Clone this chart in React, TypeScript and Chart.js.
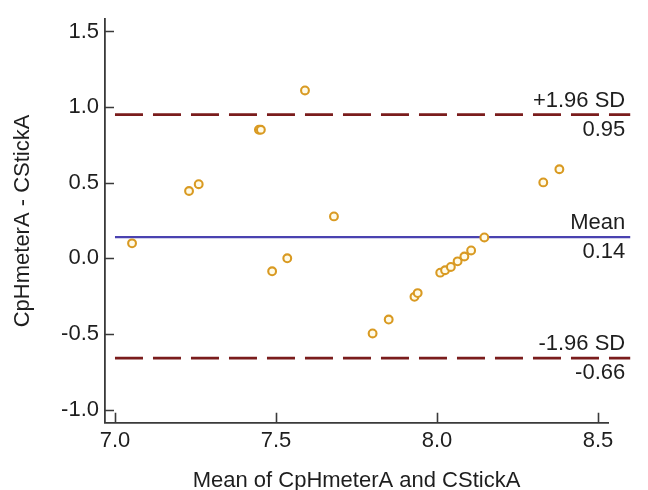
import React, { useEffect, useRef } from "react";
import { Chart, registerables } from "chart.js";

Chart.register(...registerables);

// ---- data ----
const meanValues = [7.053, 7.23, 7.26, 7.447, 7.453, 7.59, 7.68, 7.488, 7.535, 7.8, 7.85, 7.93, 7.94, 8.01, 8.025, 8.043, 8.064, 8.085, 8.106, 8.147, 8.33, 8.38];
const diffValues = [0.099, 0.445, 0.49, 0.85, 0.85, 1.11, 0.277, -0.086, 0.0, -0.497, -0.405, -0.255, -0.23, -0.095, -0.079, -0.057, -0.02, 0.012, 0.052, 0.138, 0.502, 0.589];
const xTicks = [7.0, 7.5, 8.0, 8.5];
const yTicks = [-1.0, -0.5, 0.0, 0.5, 1.0, 1.5];
const xRange = [6.969, 8.531];
const yRange = [-1.087, 1.581];
const lineSpan = [7.0, 8.6];
const limitValues = [0.95, 0.14, -0.66];
const limitNames = ["+1.96 SD", "Mean", "-1.96 SD"];
const limitColors = ["#7a1c1c", "#4a42b0", "#7a1c1c"];
const limitDashes = [[28, 10], [], [28, 10]];
const xTitle = "Mean of CpHmeterA and CStickA";
const yTitle = "CpHmeterA - CStickA";

const FONT = "'Liberation Sans', Arial, sans-serif";
const TEXT = "#1e1e1e";

const decorPlugin = {
  id: "baDecor",
  afterDatasetsDraw(chart: any) {
    const ctx = chart.ctx;
    const xs = chart.scales.x;
    const ys = chart.scales.y;
    ctx.save();
    // inward tick marks
    ctx.strokeStyle = "#3a3a3a";
    ctx.lineWidth = 1.6;
    ctx.beginPath();
    yTicks.forEach((v) => {
      const py = Math.round(ys.getPixelForValue(v)) + 0.5;
      ctx.moveTo(xs.left, py);
      ctx.lineTo(xs.left + 9, py);
    });
    xTicks.forEach((v) => {
      const px = Math.round(xs.getPixelForValue(v)) + 0.5;
      ctx.moveTo(px, ys.bottom);
      ctx.lineTo(px, ys.bottom - 10);
    });
    ctx.stroke();
    // limit labels
    ctx.fillStyle = TEXT;
    ctx.font = `22px ${FONT}`;
    ctx.textAlign = "right";
    const rx = xs.getPixelForValue(lineSpan[1]) - 5;
    limitValues.forEach((v, i) => {
      const py = ys.getPixelForValue(v);
      ctx.textBaseline = "alphabetic";
      ctx.fillText(limitNames[i], rx, py - 8);
      ctx.textBaseline = "top";
      ctx.fillText(v.toFixed(2), rx, py + 4);
    });
    ctx.restore();
  },
};

export default function App() {
  const ref = useRef<HTMLCanvasElement | null>(null);

  useEffect(() => {
    if (!ref.current) return;
    const points = meanValues.map((x, i) => ({ x, y: diffValues[i] }));
    const lineSets = limitValues.map((v, i) => ({
      label: limitNames[i],
      data: lineSpan.map((x) => ({ x, y: v })),
      showLine: true,
      borderColor: limitColors[i],
      borderWidth: i === 1 ? 2.2 : 2.8,
      borderDash: limitDashes[i],
      pointRadius: 0,
      clip: false as any,
      order: 2,
    }));
    const chart = new Chart(ref.current, {
      type: "scatter",
      data: {
        datasets: [
          {
            label: "Differences",
            data: points,
            pointRadius: 3.9,
            pointBorderWidth: 2.1,
            pointBorderColor: "#d99a22",
            pointBackgroundColor: "#fffbe8",
            order: 1,
          } as any,
          ...(lineSets as any),
        ],
      },
      options: {
        responsive: false,
        animation: false,
        events: [],
        layout: { padding: { top: 14, right: 40, left: 0, bottom: 0 } },
        plugins: { legend: { display: false }, tooltip: { enabled: false } },
        scales: {
          x: {
            type: "linear",
            min: xRange[0],
            max: xRange[1],
            afterBuildTicks: (s: any) => {
              s.ticks = xTicks.map((v) => ({ value: v }));
            },
            afterFit: (s: any) => {
              s.height = 67.3;
            },
            grid: { display: false, drawTicks: false },
            border: { display: true, color: "#3a3a3a", width: 1.8 },
            ticks: {
              padding: 5,
              color: TEXT,
              font: { family: FONT, size: 22 },
              maxRotation: 0,
              callback: (v: any) => Number(v).toFixed(1),
            },
            title: {
              display: true,
              text: xTitle,
              color: TEXT,
              font: { family: FONT, size: 22, lineHeight: 1 },
              padding: { top: 0, bottom: -2 },
            },
          },
          y: {
            type: "linear",
            min: yRange[0],
            max: yRange[1],
            afterBuildTicks: (s: any) => {
              s.ticks = yTicks.map((v) => ({ value: v }));
            },
            afterFit: (s: any) => {
              s.width = 105;
            },
            grid: { display: false, drawTicks: false },
            border: { display: true, color: "#3a3a3a", width: 1.8 },
            ticks: {
              padding: 6,
              color: TEXT,
              font: { family: FONT, size: 22 },
              callback: (v: any) => Number(v).toFixed(1),
            },
            title: {
              display: true,
              text: yTitle,
              color: TEXT,
              font: { family: FONT, size: 22, lineHeight: 1 },
              padding: { top: 12, bottom: 0 },
            },
          },
        },
      },
      plugins: [decorPlugin],
    } as any);
    return () => chart.destroy();
  }, []);

  return (
    <div style={{ position: "absolute", left: 0, top: 0, width: 648, height: 490, background: "#fff" }}>
      <canvas ref={ref} width={648} height={490} style={{ width: 648, height: 490 }} />
    </div>
  );
}
